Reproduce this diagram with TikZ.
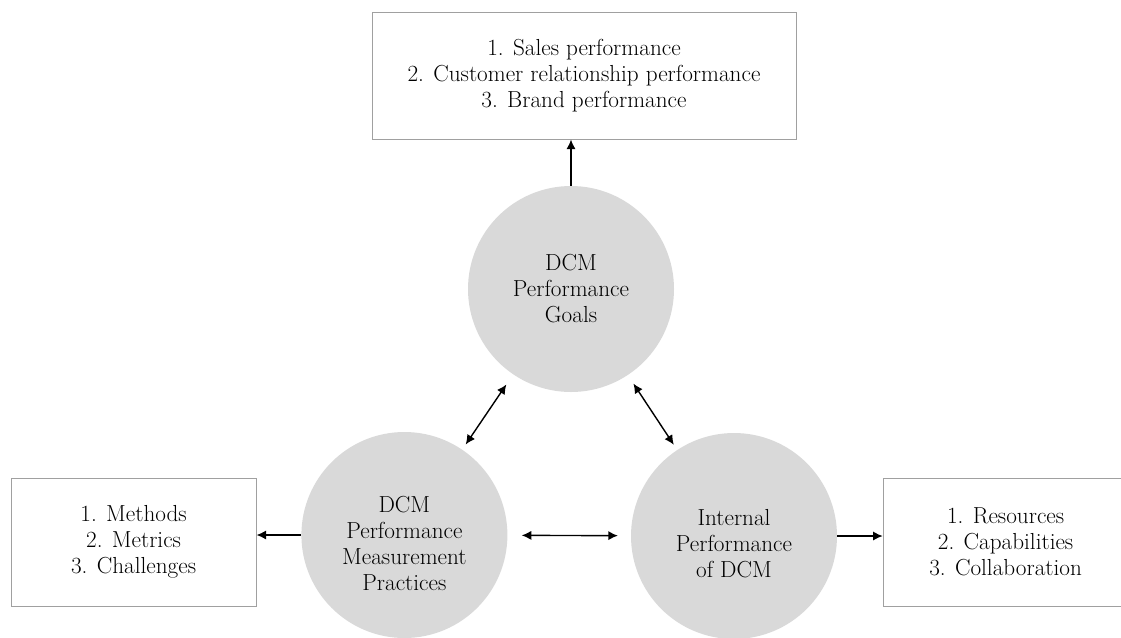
\documentclass[tikz,border=0pt]{standalone}
\usetikzlibrary{arrows.meta}

\definecolor{circlegray}{RGB}{217,217,217}
\definecolor{boxgray}{RGB}{160,160,160}

\tikzset{
	every node/.style={font=\fontsize{16.5}{18.5}\selectfont, align=center},
	topic/.style={circle, fill=circlegray, minimum size=5.15cm, inner sep=0pt},
	listbox/.style={draw=boxgray, line width=0.6pt, minimum width=6.125cm, minimum height=3.2cm},
	link/.style={line width=1pt, -{Latex[length=2.4mm,width=2.3mm]}},
	twoway/.style={line width=1pt, {Latex[length=2.4mm,width=2.3mm]}-{Latex[length=2.4mm,width=2.3mm]}}
}

\begin{document}
\begin{tikzpicture}
		\useasboundingbox (0,0) rectangle (28.025,-15.925);
		\clip (0,0) rectangle (28.025,-15.925);
		
		% three circles
		\node [topic] (goals) at (14.275,-7.225) {DCM\\Performance\\Goals};
		\node [topic, label={[yshift=-0.2cm]center:{DCM\\Performance\\Measurement\\Practices}}] (practices) at (10.11,-13.375) {};
		\node [topic, label={[yshift=-0.18cm]center:{Internal\\Performance\\of DCM}}] (internal) at (18.35,-13.4) {};
		
		% boxes
		\node [listbox, minimum width=10.6cm, minimum height=3.175cm] (outcomes) at (14.6,-1.89) {1. Sales performance\\2. Customer relationship performance\\3. Brand performance};
		\node [listbox] (methods) at (3.34,-13.55) {1. Methods\\2. Metrics\\3. Challenges};
		\node [listbox] (resources) at (25.14,-13.55) {1. Resources\\2. Capabilities\\3. Collaboration};
		
		\draw [link] (goals.north) -- (goals.north |- outcomes.south);
		\draw [link] (practices.west) -- (practices.west -| methods.east);
		\draw [link] (internal.east) -- (internal.east -| resources.west);
		
		\draw [twoway, shorten <=0.3cm, shorten >=0.15cm] (goals) -- (practices);
		\draw [twoway, shorten <=0.25cm, shorten >=0.15cm] (goals) -- (internal);
		\draw [twoway, shorten <=0.35cm, shorten >=0.32cm] (practices) -- (internal);
	\end{tikzpicture}
\end{document}
